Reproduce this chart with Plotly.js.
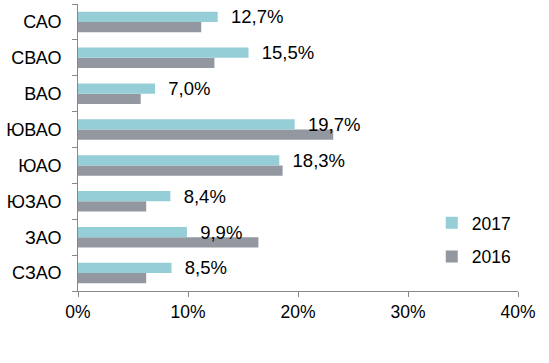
<!DOCTYPE html>
<html><head><meta charset="utf-8">
<script src="https://cdn.plot.ly/plotly-3.0.1.min.js"></script>
<style>html,body{margin:0;padding:0;background:#fff}#c{width:549px;height:363px}</style>
</head><body><div id="c"></div>
<script>
const categories = ["САО","СВАО","ВАО","ЮВАО","ЮАО","ЮЗАО","ЗАО","СЗАО"];
const values2017 = [12.7,15.5,7.0,19.7,18.3,8.4,9.9,8.5];
const values2016 = [11.2,12.4,5.7,23.2,18.6,6.2,16.4,6.2];
const seriesNames = ["2016","2017"];
const xTicks = [0,10,20,30,40];
const xTickLabels = ["0%","10%","20%","30%","40%"];

const font = "Liberation Sans, Arial, sans-serif";
const labels2017 = values2017.map(v => "\u00a0\u00a0" + v.toFixed(1).replace(".", ",") + "%");

const traces = [
  {type:"bar", orientation:"h", name:seriesNames[0], x:values2016, y:categories,
   marker:{color:"#9297A0"}, legendgroup:"g2016", legendrank:2, hoverinfo:"skip"},
  {type:"bar", orientation:"h", name:seriesNames[1], x:values2017, y:categories,
   marker:{color:"#95CED7"}, legendgroup:"g2017", legendrank:1, hoverinfo:"skip",
   text:labels2017, textposition:"outside", constraintext:"none", cliponaxis:false,
   textfont:{family:font, size:18.5, color:"#000"}}
];

const layout = {
  width:549, height:363,
  margin:{l:78, r:31, t:4, b:72},
  paper_bgcolor:"#fff", plot_bgcolor:"#fff",
  barmode:"group", bargap:0.43, bargroupgap:0,
  font:{family:font, color:"#000"},
  showlegend:true,
  legend:{x:0.804, xanchor:"left", y:0.30, yanchor:"top", traceorder:"grouped",
          tracegroupgap:8, font:{family:font, size:17.5, color:"#000"}, bgcolor:"rgba(0,0,0,0)"},
  xaxis:{range:[0,40], tickvals:xTicks, ticktext:xTickLabels, showgrid:false, zeroline:false,
         showline:true, linecolor:"#888", linewidth:1, ticks:"outside", ticklen:5, tickcolor:"#888",
         tickfont:{family:font, size:17.5, color:"#000"}, fixedrange:true},
  yaxis:{type:"category", categoryorder:"array", categoryarray:categories.slice().reverse(),
         showgrid:false, zeroline:false, showline:true, linecolor:"#888", linewidth:1,
         ticks:"outside", ticklen:5, tickcolor:"#888", tickson:"boundaries",
         ticklabelstandoff:12, tickfont:{family:font, size:18, color:"#000"}, fixedrange:true}
};
Plotly.newPlot("c", traces, layout, {displayModeBar:false, staticPlot:true});
</script></body></html>
